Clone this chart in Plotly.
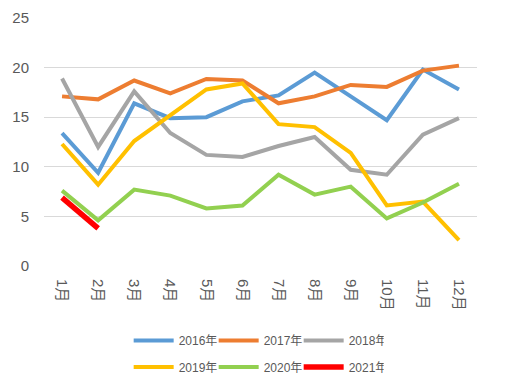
import plotly.graph_objects as go

months = ["1月", "2月", "3月", "4月", "5月", "6月", "7月", "8月", "9月", "10月", "11月", "12月"]
y2016 = [13.4, 9.4, 16.4, 14.9, 15.0, 16.6, 17.2, 19.5, 17.1, 14.7, 19.8, 17.8]
y2017 = [17.1, 16.8, 18.7, 17.4, 18.85, 18.7, 16.4, 17.1, 18.25, 18.05, 19.7, 20.2]
y2018 = [18.9, 12.0, 17.6, 13.4, 11.2, 11.0, 12.1, 13.0, 9.7, 9.2, 13.25, 14.9]
y2019 = [12.3, 8.2, 12.6, 15.2, 17.8, 18.4, 14.3, 14.0, 11.4, 6.1, 6.5, 2.6]
y2020 = [7.6, 4.6, 7.7, 7.1, 5.8, 6.1, 9.2, 7.2, 8.0, 4.8, 6.4, 8.3]
y2021 = [6.9, 3.8]

series = [
    ("2016年", y2016, "#5B9BD5", 4, "legend"),
    ("2017年", y2017, "#ED7D31", 4, "legend"),
    ("2018年", y2018, "#A5A5A5", 4, "legend"),
    ("2019年", y2019, "#FFC000", 4, "legend2"),
    ("2020年", y2020, "#92D050", 4, "legend2"),
    ("2021年", y2021, "#FF0000", 5.5, "legend2"),
]

FONT = "Liberation Sans, Noto Sans CJK SC, sans-serif"
TXT = "#595959"

fig = go.Figure()
for name, vals, color, w, lg in series:
    fig.add_trace(go.Scatter(
        x=months[:len(vals)], y=vals, name=name, mode="lines",
        line=dict(color=color, width=w), legend=lg,
    ))

fig.update_layout(
    width=491, height=370,
    margin=dict(l=36, r=22, t=10, b=111.5, autoexpand=False),
    paper_bgcolor="white", plot_bgcolor="white",
    font=dict(family=FONT, color=TXT, size=15),
    xaxis=dict(type="category", categoryorder="array", categoryarray=months,
               range=[-0.5, 11.5], automargin=False,
               showgrid=False, showline=False, zeroline=False,
               tickangle=90, tickfont=dict(size=15, color=TXT),
               ticks="outside", ticklen=9, tickcolor="rgba(0,0,0,0)"),
    yaxis=dict(range=[0, 25], dtick=5, showgrid=True, gridcolor="#D9D9D9",
               gridwidth=1, zeroline=False, showline=False, automargin=False,
               tickfont=dict(size=15, color=TXT), ticklabelstandoff=14),
    legend=dict(orientation="h", x=0.49, xanchor="center", y=-0.30, yanchor="middle",
                font=dict(size=12, color=TXT), itemwidth=40, entrywidth=30,
                bgcolor="rgba(0,0,0,0)"),
    legend2=dict(orientation="h", x=0.49, xanchor="center", y=-0.407, yanchor="middle",
                 font=dict(size=12, color=TXT), itemwidth=40, entrywidth=30,
                 bgcolor="rgba(0,0,0,0)"),
    showlegend=True,
)

fig.write_html("out.html")
